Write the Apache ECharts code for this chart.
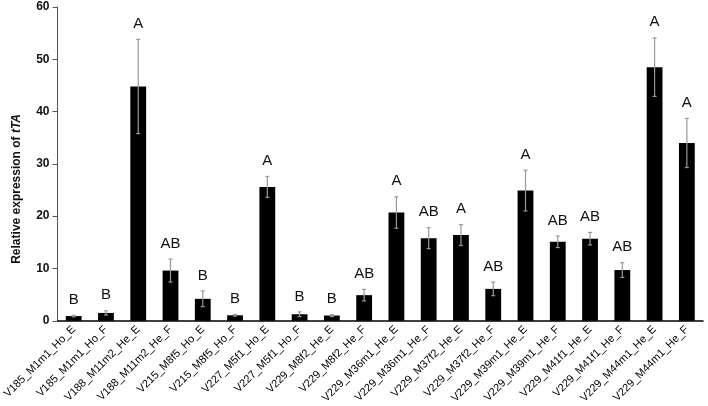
<!DOCTYPE html>
<html><head><meta charset="utf-8">
<script src="https://cdn.jsdelivr.net/npm/echarts@6/dist/echarts.min.js"></script>
<style>html,body{margin:0;padding:0;background:#fff}#c{width:708px;height:406px}</style>
</head><body><div id="c"></div>
<script>
const categories = ["V185_M1m1_Ho_E","V185_M1m1_Ho_F","V188_M11m2_He_E","V188_M11m2_He_F","V215_M8f5_Ho_E","V215_M8f5_Ho_F","V227_M5f1_Ho_E","V227_M5f1_Ho_F","V229_M8f2_He_E","V229_M8f2_He_F","V229_M36m1_He_E","V229_M36m1_He_F","V229_M37f2_He_E","V229_M37f2_He_F","V229_M39m1_He_E","V229_M39m1_He_F","V229_M41f1_He_E","V229_M41f1_He_F","V229_M44m1_He_E","V229_M44m1_He_F"];
const values = [0.9,1.5,44.8,9.6,4.2,1.05,25.6,1.25,1.0,4.9,20.7,15.8,16.4,6.1,24.9,15.1,15.7,9.7,48.5,34.0];
const errors = [0.15,0.4,9.0,2.2,1.5,0.15,2.0,0.45,0.2,1.1,3.0,2.0,2.0,1.3,3.9,1.1,1.2,1.4,5.6,4.7];
const letters = ["B","B","A","AB","B","B","A","B","B","AB","A","AB","A","AB","A","AB","AB","AB","A","A"];
const yTicks = [0,10,20,30,40,50,60];

const chart = echarts.init(document.getElementById('c'));
const errData = values.map((v,i)=>[i, v, errors[i]]);
chart.setOption({
  animation:false,
  grid:{left:49,right:5,top:7,bottom:79,containLabel:false},
  xAxis:{type:'category',data:categories,
    axisLine:{lineStyle:{color:'#000',width:1.5}},
    axisTick:{show:false},
    axisLabel:{rotate:45,interval:0,fontSize:11,color:'#000',fontFamily:'Liberation Sans, Arial',margin:7}},
  yAxis:{type:'value',min:yTicks[0],max:yTicks[yTicks.length-1],interval:10,
    splitLine:{show:false},
    axisLine:{show:true,lineStyle:{color:'#555'}},
    axisTick:{show:true,length:5,lineStyle:{color:'#555'}},
    axisLabel:{fontSize:12,fontWeight:'bold',color:'#111',fontFamily:'Liberation Sans, Arial',margin:8},
    name:'{n|Relative expression of }{i|tTA}',nameLocation:'middle',nameRotate:90,nameGap:35,
    nameTextStyle:{padding:[0,50,0,0],rich:{
      n:{fontSize:12,fontWeight:'bold',color:'#111',fontFamily:'Liberation Sans, Arial'},
      i:{fontSize:12,fontWeight:'bold',fontStyle:'italic',color:'#111',fontFamily:'Liberation Sans, Arial'}}}},
  series:[
    {type:'bar',data:values,barWidth:'49%',itemStyle:{color:'#000'}},
    {type:'custom',data:errData,z:10,
      renderItem:function(params,api){
        const i=api.value(0), v=api.value(1), e=api.value(2);
        const top=api.coord([i,v+e]), bot=api.coord([i,v-e]);
        const cap=2;
        const st={stroke:'#999',lineWidth:1.2};
        return {type:'group',children:[
          {type:'line',shape:{x1:top[0],y1:top[1],x2:bot[0],y2:bot[1]},style:st},
          {type:'line',shape:{x1:top[0]-cap,y1:top[1],x2:top[0]+cap,y2:top[1]},style:st},
          {type:'line',shape:{x1:bot[0]-cap,y1:bot[1],x2:bot[0]+cap,y2:bot[1]},style:st},
          {type:'text',style:{text:letters[i],x:top[0],y:top[1]-8,align:'center',verticalAlign:'bottom',
            fontSize:15,fill:'#111',fontFamily:'Liberation Sans, Arial'}}
        ]};
      }}
  ]
});
</script></body></html>
